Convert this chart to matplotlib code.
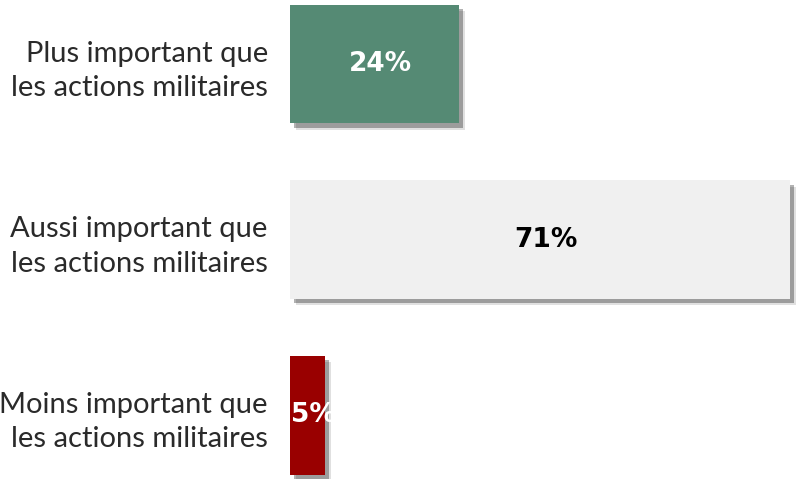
import matplotlib
matplotlib.use('Agg')
import matplotlib.pyplot as plt
import matplotlib.patheffects as pe
from matplotlib.patches import Rectangle

# data
categories = ['Plus important que\nles actions militaires',
              'Aussi important que\nles actions militaires',
              'Moins important que\nles actions militaires']
values = [24, 71, 5]
bar_colors = ['#558a74', '#f0f0f0', '#990000']
text_colors = ['white', 'black', 'white']

fig = plt.figure(figsize=(8.12, 4.79), dpi=100)
ax = fig.add_axes([290 / 812, 0, 522 / 812, 1])

y = list(range(len(values)))
shadow = [pe.SimplePatchShadow(offset=(4.5, -4.5), shadow_rgbFace='#000000', alpha=0.12),
          pe.SimplePatchShadow(offset=(3, -3), shadow_rgbFace='#000000', alpha=0.3),
          pe.Normal()]
bars = ax.barh(y, values, height=0.675, color=bar_colors, linewidth=0)
for b in bars:
    b.set_path_effects(shadow)

for yi, v, tc in zip(y, values, text_colors):
    t = ax.text(v / 2 + 0.9, yi, f'{v}%', ha='center', va='center', color=tc,
                fontsize=19, fontweight='bold', family='DejaVu Sans')
    # label gets cut at the shadow edge, like in the original
    clip = Rectangle((0, yi - 0.5), v + 0.7, 1.0, transform=ax.transData)
    t.set_clip_path(clip)

ax.set_xlim(0, 522 / 7.04)
ax.set_ylim(2 + 64 / 176.5, -64.5 / 176.5)
ax.set_yticks(y)
ax.set_yticklabels(categories, fontsize=21, family='Lato',
                   color='#2a2a2a', linespacing=1.4)
ax.tick_params(axis='y', length=0, pad=16)
ax.set_xticks([])
for s in ax.spines.values():
    s.set_visible(False)

fig.savefig('out.png', dpi=100)
